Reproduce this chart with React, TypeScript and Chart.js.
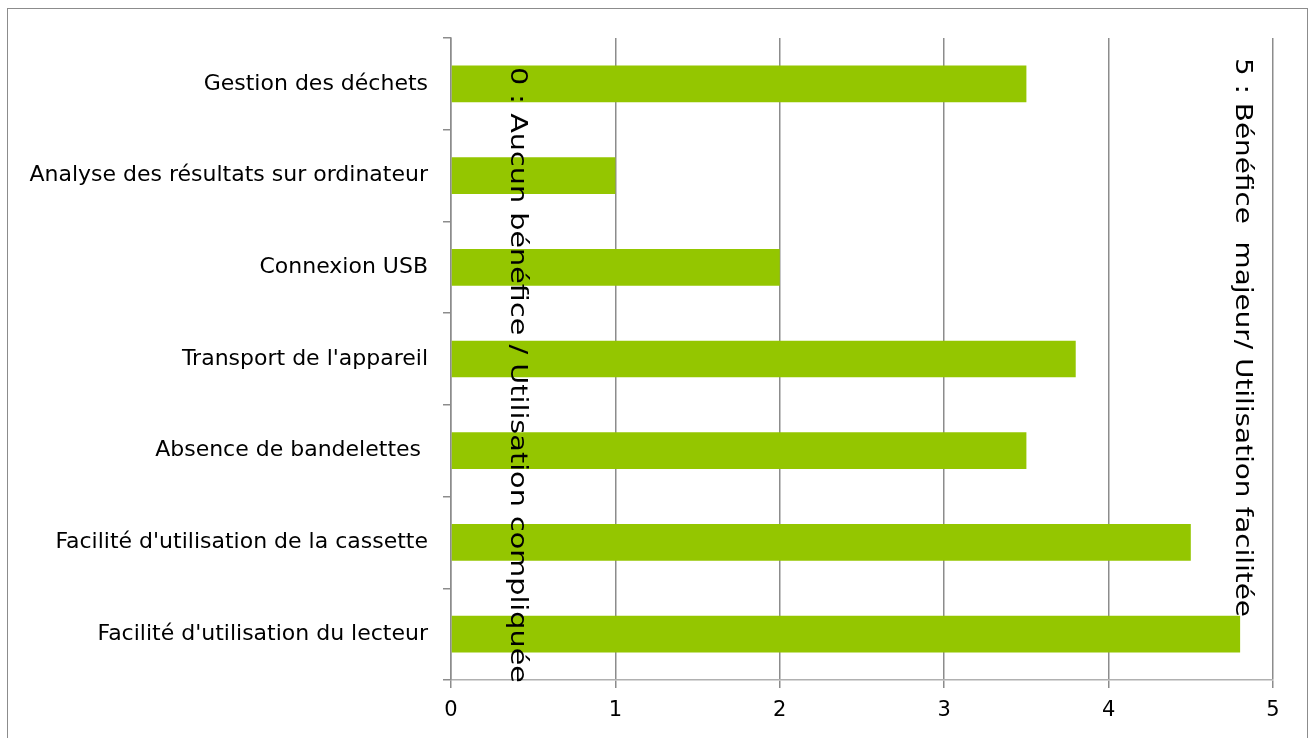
import React, { useEffect, useRef } from "react";
import { Chart, registerables } from "chart.js";

Chart.register(...registerables);

const categories = [
  "Gestion des déchets",
  "Analyse des résultats sur ordinateur",
  "Connexion USB",
  "Transport de l'appareil",
  "Absence de bandelettes ",
  "Facilité d'utilisation de la cassette",
  "Facilité d'utilisation du lecteur",
];
const scores = [3.5, 1, 2, 3.8, 3.5, 4.5, 4.8];
const xTicks = [0, 1, 2, 3, 4, 5];
const leftNote = "0 : Aucun bénéfice / Utilisation compliquée";
const rightNote = "5 : Bénéfice  majeur/ Utilisation facilitée";

const FONT = "'DejaVu Sans', sans-serif";

const framePlugin = {
  id: "frame",
  beforeDraw(chart: any) {
    const ctx = chart.ctx;
    ctx.save();
    ctx.strokeStyle = "#8c8c8c";
    ctx.lineWidth = 1;
    ctx.strokeRect(7.5, 8.5, 1300, 760);
    ctx.restore();
  },
};

function drawNote(ctx: any, text: string, cx: number, top: number, len: number) {
  ctx.save();
  ctx.fillStyle = "#000";
  ctx.font = `23px ${FONT}`;
  ctx.textBaseline = "middle";
  ctx.textAlign = "left";
  const w = ctx.measureText(text).width;
  ctx.translate(cx, top);
  ctx.rotate(Math.PI / 2);
  ctx.scale(len / w, 1);
  ctx.fillText(text, 0, 0);
  ctx.restore();
}

const notesPlugin = {
  id: "notes",
  afterDraw(chart: any) {
    const ctx = chart.ctx;
    const x = chart.scales.x;
    drawNote(ctx, leftNote, x.getPixelForValue(0.4), 67, 616);
    drawNote(ctx, rightNote, x.getPixelForValue(4.81), 58, 559);
  },
};

export default function App() {
  const ref = useRef<HTMLCanvasElement>(null);
  useEffect(() => {
    if (!ref.current) return;
    const chart = new Chart(ref.current, {
      type: "bar",
      data: {
        labels: categories,
        datasets: [
          {
            data: scores,
            backgroundColor: "#94C600",
            barPercentage: 0.8,
            categoryPercentage: 0.5,
          },
        ],
      },
      options: {
        indexAxis: "y",
        animation: false,
        responsive: true,
        maintainAspectRatio: false,
        layout: { padding: { left: 0, top: 38, right: 41, bottom: 0 } },
        plugins: { legend: { display: false }, tooltip: { enabled: false } },
        scales: {
          x: {
            min: 0,
            max: 5,
            afterFit(s: any) {
              s.height = 58;
            },
            afterBuildTicks(s: any) {
              s.ticks = xTicks.map((v) => ({ value: v }));
            },
            grid: {
              color: "#8c8c8c",
              lineWidth: 1.5,
              tickLength: 8,
              drawOnChartArea: true,
            },
            border: { display: true, color: "#b0b0b0", width: 1.5 },
            ticks: {
              color: "#000",
              font: { family: FONT, size: 21 },
              padding: 10,
            },
          },
          y: {
            afterFit(s: any) {
              s.width = 451;
            },
            grid: {
              drawOnChartArea: false,
              color: "#8c8c8c",
              lineWidth: 1.5,
              tickLength: 8,
            },
            border: { display: true, color: "#8c8c8c", width: 1.5 },
            ticks: {
              color: "#000",
              font: { family: FONT, size: 22 },
              padding: 15,
            },
          },
        },
      },
      plugins: [framePlugin, notesPlugin],
    });
    return () => chart.destroy();
  }, []);
  return (
    <div style={{ position: "fixed", left: 0, top: 0, width: 1314, height: 738, background: "#fff" }}>
      <canvas ref={ref} />
    </div>
  );
}
